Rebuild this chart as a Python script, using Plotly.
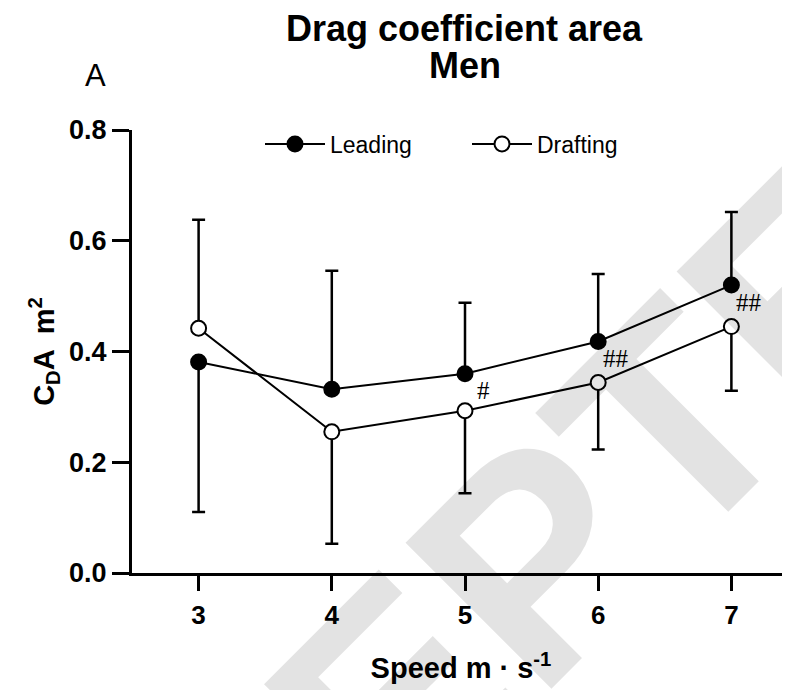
import plotly.graph_objects as go

# ---- data ----
speed = [3, 4, 5, 6, 7]
leading = [0.381, 0.332, 0.360, 0.418, 0.520]
leading_err_up = [None, 0.214, 0.128, 0.122, 0.132]
leading_err_down = [0.271, None, None, None, None]
drafting = [0.442, 0.255, 0.293, 0.344, 0.445]
drafting_err_up = [0.196, None, None, None, None]
drafting_err_down = [None, 0.202, 0.149, 0.121, 0.116]
sig_labels = ["", "", "#", "##", "##"]
y_ticks = [0.0, 0.2, 0.4, 0.6, 0.8]
x_ticks = [3, 4, 5, 6, 7]

FONT = "Arial, Liberation Sans, sans-serif"

# figure is drawn with the page's 8px body margin, so size/margins compensate
OFF = 8
W, H = 790 - OFF, 690 - OFF
L, R, T, B = 124, 0, 122, 117
PW, PH = W - L - R, H - T - B


def px(xs):
    """screen x pixel -> paper x"""
    return (xs - OFF - L) / PW


def py(ys):
    """screen y pixel -> paper y"""
    return (H - B - (ys - OFF)) / PH


fig = go.Figure()

fig.add_trace(go.Scatter(
    x=speed, y=leading, name="Leading", mode="lines+markers",
    line=dict(color="black", width=2),
    marker=dict(symbol="circle", size=15, color="black",
                line=dict(color="black", width=2)),
    error_y=dict(type="data", symmetric=False, array=leading_err_up,
                 arrayminus=leading_err_down, color="black",
                 thickness=2.5, width=6.5),
))
fig.add_trace(go.Scatter(
    x=speed, y=drafting, name="Drafting", mode="lines+markers",
    line=dict(color="black", width=2),
    marker=dict(symbol="circle", size=15, color="white",
                line=dict(color="black", width=2)),
    error_y=dict(type="data", symmetric=False, array=drafting_err_up,
                 arrayminus=drafting_err_down, color="black",
                 thickness=2.5, width=6.5),
))

# significance markers next to the leading points
for xs, ys, lab in zip(speed, leading, sig_labels):
    if lab:
        fig.add_annotation(x=xs, y=ys, text=lab, showarrow=False,
                           xref="x", yref="y", xshift=18, yshift=-17,
                           xanchor="center", yanchor="middle",
                           font=dict(family="Liberation Serif, serif",
                                     size=25, color="black"))

# titles
fig.add_annotation(text="Drag coefficient area", xref="paper", yref="paper",
                   x=px(465), y=py(28), xanchor="center", yanchor="middle",
                   showarrow=False,
                   font=dict(family=FONT, size=36, color="black", weight="bold"))
fig.add_annotation(text="Men", xref="paper", yref="paper",
                   x=px(465), y=py(66), xanchor="center", yanchor="middle",
                   showarrow=False,
                   font=dict(family=FONT, size=36, color="black", weight="bold"))
fig.add_annotation(text="A", xref="paper", yref="paper",
                   x=px(95), y=py(75), xanchor="center", yanchor="middle",
                   showarrow=False,
                   font=dict(family=FONT, size=31, color="black"))

# watermark
fig.add_annotation(text="ACCEPTED", xref="paper", yref="paper",
                   x=px(446), y=py(647), xanchor="center", yanchor="middle",
                   showarrow=False, textangle=-45, captureevents=False,
                   font=dict(family=FONT, size=300, color="rgba(0,0,0,0.11)",
                             weight="bold"))

fig.update_layout(
    width=W, height=H, autosize=False,
    margin=dict(l=L, r=R, t=T, b=B, autoexpand=False),
    paper_bgcolor="white", plot_bgcolor="white",
    font=dict(family=FONT, color="black"),
    showlegend=True,
    legend=dict(orientation="h", x=px(260), xanchor="left", y=py(144),
                yanchor="middle", font=dict(family=FONT, size=23),
                bgcolor="rgba(0,0,0,0)", itemwidth=60, entrywidth=132),
    xaxis=dict(range=[2.5, 7.44], tickvals=x_ticks, showline=True,
               automargin=False,
               linecolor="black", linewidth=3, ticks="outside", ticklen=15,
               tickwidth=3, tickcolor="black", showgrid=False, zeroline=False,
               tickfont=dict(family=FONT, size=26, weight="bold"),
               ticklabelstandoff=2,
               title=dict(text="Speed m · s<sup>-1</sup>",
                          font=dict(family=FONT, size=29, weight="bold"),
                          standoff=29)),
    yaxis=dict(range=[0, 0.8], tickvals=y_ticks, tickformat=".1f",
               automargin=False,
               showline=True, linecolor="black", linewidth=3,
               ticks="outside", ticklen=17, tickwidth=3, tickcolor="black",
               showgrid=False, zeroline=False,
               tickfont=dict(family=FONT, size=27, weight="bold"),
               title=dict(text="C<sub>D</sub>A  m<sup>2</sup>",
                          font=dict(family=FONT, size=29, weight="bold"),
                          standoff=6)),
)

fig.write_html("out.html")
